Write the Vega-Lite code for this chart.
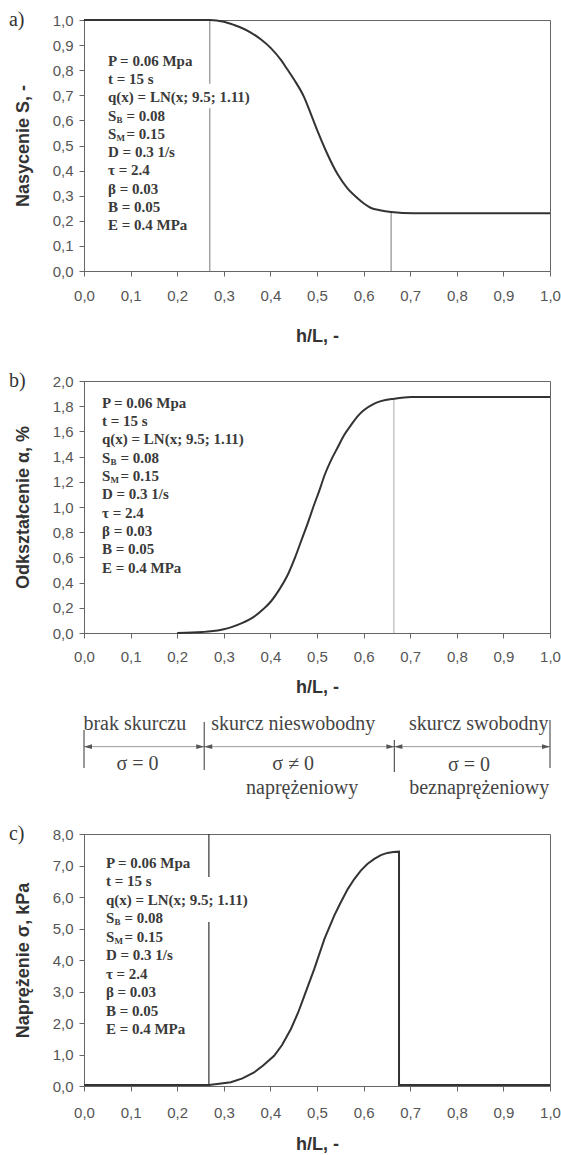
{
  "$schema": "https://vega.github.io/schema/vega-lite/v6.json",
  "padding": {"left": 8, "top": 9, "right": 0, "bottom": 0},
  "spacing": 24,
  "config": {
    "view": {"stroke": "#666", "strokeWidth": 1},
    "axis": {
      "grid": false,
      "labelOverlap": false,
      "domainColor": "#666",
      "tickColor": "#666",
      "tickSize": 5,
      "labelFont": "Liberation Sans",
      "labelFontSize": 15,
      "labelColor": "#555",
      "titleFont": "Liberation Sans",
      "titleFontSize": 18,
      "titleFontWeight": "bold",
      "titleColor": "#333"
    }
  },
  "datasets": {
    "params": [
      {"line": 0, "t": "P = 0.06 Mpa"},
      {"line": 1, "t": "t = 15 s"},
      {"line": 2, "t": "q(x) = LN(x; 9.5; 1.11)"},
      {"line": 3, "t": "S", "sub": "B", "rest": "= 0.08"},
      {"line": 4, "t": "S", "sub": "M", "rest": "= 0.15"},
      {"line": 5, "t": "D = 0.3 1/s"},
      {"line": 6, "t": "\u00a0τ = 2.4"},
      {"line": 7, "t": "β = 0.03"},
      {"line": 8, "t": "B = 0.05"},
      {"line": 9, "t": "E = 0.4 MPa"}
    ],
    "sa": [
      {"x": 0, "y": 1}, {"x": 0.27, "y": 1}, {"x": 0.3, "y": 0.993}, {"x": 0.322, "y": 0.98},
      {"x": 0.34, "y": 0.967}, {"x": 0.358, "y": 0.95}, {"x": 0.38, "y": 0.922}, {"x": 0.401, "y": 0.888},
      {"x": 0.423, "y": 0.84}, {"x": 0.434, "y": 0.81}, {"x": 0.45, "y": 0.765}, {"x": 0.473, "y": 0.69},
      {"x": 0.487, "y": 0.625}, {"x": 0.501, "y": 0.558}, {"x": 0.52, "y": 0.475}, {"x": 0.544, "y": 0.386},
      {"x": 0.565, "y": 0.33}, {"x": 0.587, "y": 0.29}, {"x": 0.6, "y": 0.27}, {"x": 0.616, "y": 0.251},
      {"x": 0.635, "y": 0.242}, {"x": 0.659, "y": 0.235}, {"x": 0.708, "y": 0.23}, {"x": 1, "y": 0.23}
    ],
    "sb": [
      {"x": 0.2, "y": 0}, {"x": 0.254, "y": 0.008}, {"x": 0.272, "y": 0.013}, {"x": 0.3, "y": 0.03},
      {"x": 0.315, "y": 0.045}, {"x": 0.34, "y": 0.08}, {"x": 0.365, "y": 0.13}, {"x": 0.385, "y": 0.19},
      {"x": 0.401, "y": 0.25}, {"x": 0.42, "y": 0.35}, {"x": 0.437, "y": 0.46}, {"x": 0.453, "y": 0.6},
      {"x": 0.466, "y": 0.73}, {"x": 0.48, "y": 0.87}, {"x": 0.494, "y": 1.02}, {"x": 0.505, "y": 1.13},
      {"x": 0.516, "y": 1.25}, {"x": 0.53, "y": 1.37}, {"x": 0.544, "y": 1.47}, {"x": 0.558, "y": 1.57},
      {"x": 0.573, "y": 1.65}, {"x": 0.587, "y": 1.72}, {"x": 0.601, "y": 1.77}, {"x": 0.62, "y": 1.815},
      {"x": 0.637, "y": 1.84}, {"x": 0.666, "y": 1.86}, {"x": 0.702, "y": 1.873}, {"x": 1, "y": 1.873}
    ],
    "sc": [
      {"x": 0, "y": 0.03}, {"x": 0.268, "y": 0.03}, {"x": 0.29, "y": 0.07}, {"x": 0.315, "y": 0.12},
      {"x": 0.34, "y": 0.24}, {"x": 0.365, "y": 0.43}, {"x": 0.385, "y": 0.66}, {"x": 0.408, "y": 0.96},
      {"x": 0.425, "y": 1.3}, {"x": 0.444, "y": 1.81}, {"x": 0.46, "y": 2.35}, {"x": 0.473, "y": 2.87},
      {"x": 0.494, "y": 3.71}, {"x": 0.516, "y": 4.67}, {"x": 0.537, "y": 5.41}, {"x": 0.55, "y": 5.8},
      {"x": 0.566, "y": 6.25}, {"x": 0.58, "y": 6.57}, {"x": 0.594, "y": 6.84}, {"x": 0.608, "y": 7.05},
      {"x": 0.623, "y": 7.21}, {"x": 0.637, "y": 7.33}, {"x": 0.651, "y": 7.4}, {"x": 0.664, "y": 7.43},
      {"x": 0.676, "y": 7.44}, {"x": 0.676, "y": 0.03}, {"x": 1, "y": 0.03}
    ]
  },
  "vconcat": [
    {
      "width": 466,
      "height": 251,
      "layer": [
        {
          "encoding": {
            "x": {"field": "x", "type": "quantitative", "scale": {"domain": [0, 1]},
              "axis": {"title": "h/L, -", "values": [0, 0.1, 0.2, 0.3, 0.4, 0.5, 0.6, 0.7, 0.8, 0.9, 1],
                "labelExpr": "replace(format(datum.value, '.1f'), '.', ',')", "labelFlush": false, "labelOverlap": false,
                "labelPadding": 12, "titlePadding": 24}},
            "y": {"field": "y", "type": "quantitative", "scale": {"domain": [0, 1]},
              "axis": {"title": "Nasycenie S, -", "values": [0, 0.1, 0.2, 0.3, 0.4, 0.5, 0.6, 0.7, 0.8, 0.9, 1],
                "labelExpr": "replace(format(datum.value, '.1f'), '.', ',')", "labelOverlap": false, "labelBound": false,
                "labelPadding": 6, "titlePadding": 20}}
          },
          "layer": [
            {
              "data": {"values": [{"x": 0.27, "y": 0, "y2": 1}, {"x": 0.659, "y": 0, "y2": 0.235}]},
              "mark": {"type": "rule", "color": "#777", "strokeWidth": 1},
              "encoding": {"y2": {"field": "y2"}}
            },
            {
              "data": {"name": "sa"},
              "mark": {"type": "line", "color": "#333", "strokeWidth": 2, "interpolate": "monotone"},
              "encoding": {"order": {"value": null}}
            },
            {
              "data": {"values": [{"x": -0.161, "y": 1, "t": "a)"}]},
              "mark": {"type": "text", "align": "left", "baseline": "middle", "font": "Liberation Serif", "fontSize": 20, "color": "#333"},
              "encoding": {"text": {"field": "t"}}
            }
          ]
        },
        {
          "layer": [
            {
              "data": {"values": [{"l0": 1.25, "l1": 2.6, "x0": 0.22, "x1": 0.33}]},
              "mark": {"type": "rect", "color": "white"},
              "encoding": {
                "x": {"field": "x0", "type": "quantitative"},
                "x2": {"field": "x1"},
                "y": {"field": "l0", "type": "quantitative", "scale": {"domain": [-2.25, 11.526], "reverse": true, "nice": false, "zero": false}, "axis": null},
                "y2": {"field": "l1"}
              }
            },
            {
              "data": {"name": "params"},
              "mark": {"type": "text", "align": "left", "baseline": "middle", "font": "Liberation Serif", "fontWeight": "bold", "fontSize": 15, "color": "#3a3a3a"},
              "encoding": {
                "x": {"datum": 0.0515, "type": "quantitative"},
                "y": {"field": "line", "type": "quantitative", "scale": {"domain": [-2.25, 11.526], "reverse": true, "nice": false, "zero": false}, "axis": null},
                "text": {"field": "t"}
              }
            },
            {
              "data": {"name": "params"},
              "transform": [{"filter": "isValid(datum.sub)"}],
              "mark": {"type": "text", "align": "left", "baseline": "middle", "font": "Liberation Serif", "fontWeight": "bold", "fontSize": 9, "dx": 8.5, "dy": 4, "color": "#3a3a3a"},
              "encoding": {
                "x": {"datum": 0.0515, "type": "quantitative"},
                "y": {"field": "line", "type": "quantitative", "scale": {"domain": [-2.25, 11.526], "reverse": true, "nice": false, "zero": false}, "axis": null},
                "text": {"field": "sub"}
              }
            },
            {
              "data": {"name": "params"},
              "transform": [{"filter": "isValid(datum.rest)"}],
              "mark": {"type": "text", "align": "left", "baseline": "middle", "font": "Liberation Serif", "fontWeight": "bold", "fontSize": 15, "dx": 18.5, "color": "#3a3a3a"},
              "encoding": {
                "x": {"datum": 0.0515, "type": "quantitative"},
                "y": {"field": "line", "type": "quantitative", "scale": {"domain": [-2.25, 11.526], "reverse": true, "nice": false, "zero": false}, "axis": null},
                "text": {"field": "rest"}
              }
            }
          ]
        }
      ],
      "resolve": {"scale": {"y": "independent"}}
    },
    {
      "width": 466,
      "height": 252,
      "layer": [
        {
          "encoding": {
            "x": {"field": "x", "type": "quantitative", "scale": {"domain": [0, 1]},
              "axis": {"title": "h/L, -", "values": [0, 0.1, 0.2, 0.3, 0.4, 0.5, 0.6, 0.7, 0.8, 0.9, 1],
                "labelExpr": "replace(format(datum.value, '.1f'), '.', ',')", "labelFlush": false, "labelOverlap": false,
                "labelPadding": 11, "titlePadding": 14}},
            "y": {"field": "y", "type": "quantitative", "scale": {"domain": [0, 2]},
              "axis": {"title": "Odkształcenie  α, %", "values": [0, 0.2, 0.4, 0.6, 0.8, 1, 1.2, 1.4, 1.6, 1.8, 2],
                "labelExpr": "replace(format(datum.value, '.1f'), '.', ',')", "labelOverlap": false, "labelBound": false,
                "labelPadding": 6, "titlePadding": 20}}
          },
          "layer": [
            {
              "data": {"values": [{"x": 0.665, "y": 0, "y2": 1.86}]},
              "mark": {"type": "rule", "color": "#aaa", "strokeWidth": 1},
              "encoding": {"y2": {"field": "y2"}}
            },
            {
              "data": {"name": "sb"},
              "mark": {"type": "line", "color": "#333", "strokeWidth": 2, "interpolate": "monotone"},
              "encoding": {"order": {"value": null}}
            },
            {
              "data": {"values": [{"x": -0.161, "y": 2, "t": "b)"}]},
              "mark": {"type": "text", "align": "left", "baseline": "middle", "font": "Liberation Serif", "fontSize": 20, "color": "#333"},
              "encoding": {"text": {"field": "t"}}
            },
            {
              "data": {"values": [
                {"x": 0, "x2": 0.258, "y": -0.902},
                {"x": 0.258, "x2": 0.666, "y": -0.902},
                {"x": 0.666, "x2": 1, "y": -0.902}
              ]},
              "mark": {"type": "rule", "color": "#999", "strokeWidth": 1},
              "encoding": {"x2": {"field": "x2"}}
            },
            {
              "data": {"values": [
                {"x": 0, "y": -0.77, "y2": -1.071},
                {"x": 0.258, "y": -0.706, "y2": -1.087},
                {"x": 0.666, "y": -0.849, "y2": -1.103},
                {"x": 1, "y": -0.69, "y2": -1.071}
              ]},
              "mark": {"type": "rule", "color": "#555", "strokeWidth": 1.2},
              "encoding": {"y2": {"field": "y2"}}
            },
            {
              "data": {"values": [
                {"x": 0, "y": -0.902, "d": "L"},
                {"x": 0.258, "y": -0.902, "d": "L"},
                {"x": 0.666, "y": -0.902, "d": "L"},
                {"x": 0.258, "y": -0.902, "d": "R"},
                {"x": 0.666, "y": -0.902, "d": "R"},
                {"x": 1, "y": -0.902, "d": "R"}
              ]},
              "mark": {"type": "point", "filled": true, "color": "#555", "size": 64, "opacity": 1},
              "encoding": {
                "shape": {"field": "d", "type": "nominal", "scale": {"domain": ["L", "R"], "range": ["M0,0L2,-0.6L2,0.6Z", "M0,0L-2,-0.6L-2,0.6Z"]}, "legend": null}
              }
            },
            {
              "data": {"values": [
                {"x": 0.109, "y": -0.722, "t": "brak skurczu"},
                {"x": 0.449, "y": -0.722, "t": "skurcz nieswobodny"},
                {"x": 0.847, "y": -0.72, "t": "skurcz swobodny"},
                {"x": 0.115, "y": -1.04, "t": "σ = 0"},
                {"x": 0.449, "y": -1.04, "t": "σ ≠ 0"},
                {"x": 0.826, "y": -1.048, "t": "σ = 0"},
                {"x": 0.468, "y": -1.23, "t": "naprężeniowy"},
                {"x": 0.848, "y": -1.23, "t": "beznaprężeniowy"}
              ]},
              "mark": {"type": "text", "align": "center", "baseline": "middle", "font": "Liberation Serif", "fontSize": 20, "color": "#444"},
              "encoding": {"text": {"field": "t"}}
            }
          ]
        },
        {
          "layer": [
            {
              "data": {"name": "params"},
              "mark": {"type": "text", "align": "left", "baseline": "middle", "font": "Liberation Serif", "fontWeight": "bold", "fontSize": 15, "color": "#3a3a3a"},
              "encoding": {
                "x": {"datum": 0.0386, "type": "quantitative"},
                "y": {"field": "line", "type": "quantitative", "scale": {"domain": [-1.184, 12.564], "reverse": true, "nice": false, "zero": false}, "axis": null},
                "text": {"field": "t"}
              }
            },
            {
              "data": {"name": "params"},
              "transform": [{"filter": "isValid(datum.sub)"}],
              "mark": {"type": "text", "align": "left", "baseline": "middle", "font": "Liberation Serif", "fontWeight": "bold", "fontSize": 9, "dx": 8.5, "dy": 4, "color": "#3a3a3a"},
              "encoding": {
                "x": {"datum": 0.0386, "type": "quantitative"},
                "y": {"field": "line", "type": "quantitative", "scale": {"domain": [-1.184, 12.564], "reverse": true, "nice": false, "zero": false}, "axis": null},
                "text": {"field": "sub"}
              }
            },
            {
              "data": {"name": "params"},
              "transform": [{"filter": "isValid(datum.rest)"}],
              "mark": {"type": "text", "align": "left", "baseline": "middle", "font": "Liberation Serif", "fontWeight": "bold", "fontSize": 15, "dx": 18.5, "color": "#3a3a3a"},
              "encoding": {
                "x": {"datum": 0.0386, "type": "quantitative"},
                "y": {"field": "line", "type": "quantitative", "scale": {"domain": [-1.184, 12.564], "reverse": true, "nice": false, "zero": false}, "axis": null},
                "text": {"field": "rest"}
              }
            }
          ]
        }
      ],
      "resolve": {"scale": {"y": "independent"}}
    },
    {
      "width": 466,
      "height": 252,
      "layer": [
        {
          "encoding": {
            "x": {"field": "x", "type": "quantitative", "scale": {"domain": [0, 1]},
              "axis": {"title": "h/L, -", "values": [0, 0.1, 0.2, 0.3, 0.4, 0.5, 0.6, 0.7, 0.8, 0.9, 1],
                "labelExpr": "replace(format(datum.value, '.1f'), '.', ',')", "labelFlush": false, "labelOverlap": false,
                "labelPadding": 14, "titlePadding": 15}},
            "y": {"field": "y", "type": "quantitative", "scale": {"domain": [0, 8]},
              "axis": {"title": "Naprężenie  σ, kPa", "values": [0, 1, 2, 3, 4, 5, 6, 7, 8],
                "labelExpr": "replace(format(datum.value, '.1f'), '.', ',')", "labelOverlap": false, "labelBound": false,
                "labelPadding": 6, "titlePadding": 20}}
          },
          "layer": [
            {
              "data": {"values": [{"x": 0.268, "y": 0, "y2": 8}]},
              "mark": {"type": "rule", "color": "#333", "strokeWidth": 1.2},
              "encoding": {"y2": {"field": "y2"}}
            },
            {
              "data": {"name": "sc"},
              "mark": {"type": "line", "color": "#333", "strokeWidth": 2},
              "encoding": {"order": {"value": null}}
            },
            {
              "data": {"values": [{"x": -0.161, "y": 8, "t": "c)"}]},
              "mark": {"type": "text", "align": "left", "baseline": "middle", "font": "Liberation Serif", "fontSize": 20, "color": "#333"},
              "encoding": {"text": {"field": "t"}}
            }
          ]
        },
        {
          "layer": [
            {
              "data": {"values": [{"l0": 0.76, "l1": 3.2, "x0": 0.22, "x1": 0.33}]},
              "mark": {"type": "rect", "color": "white"},
              "encoding": {
                "x": {"field": "x0", "type": "quantitative"},
                "x2": {"field": "x1"},
                "y": {"field": "l0", "type": "quantitative", "scale": {"domain": [-1.573, 12.093], "reverse": true, "nice": false, "zero": false}, "axis": null},
                "y2": {"field": "l1"}
              }
            },
            {
              "data": {"name": "params"},
              "mark": {"type": "text", "align": "left", "baseline": "middle", "font": "Liberation Serif", "fontWeight": "bold", "fontSize": 15, "color": "#3a3a3a"},
              "encoding": {
                "x": {"datum": 0.047, "type": "quantitative"},
                "y": {"field": "line", "type": "quantitative", "scale": {"domain": [-1.573, 12.093], "reverse": true, "nice": false, "zero": false}, "axis": null},
                "text": {"field": "t"}
              }
            },
            {
              "data": {"name": "params"},
              "transform": [{"filter": "isValid(datum.sub)"}],
              "mark": {"type": "text", "align": "left", "baseline": "middle", "font": "Liberation Serif", "fontWeight": "bold", "fontSize": 9, "dx": 8.5, "dy": 4, "color": "#3a3a3a"},
              "encoding": {
                "x": {"datum": 0.047, "type": "quantitative"},
                "y": {"field": "line", "type": "quantitative", "scale": {"domain": [-1.573, 12.093], "reverse": true, "nice": false, "zero": false}, "axis": null},
                "text": {"field": "sub"}
              }
            },
            {
              "data": {"name": "params"},
              "transform": [{"filter": "isValid(datum.rest)"}],
              "mark": {"type": "text", "align": "left", "baseline": "middle", "font": "Liberation Serif", "fontWeight": "bold", "fontSize": 15, "dx": 18.5, "color": "#3a3a3a"},
              "encoding": {
                "x": {"datum": 0.047, "type": "quantitative"},
                "y": {"field": "line", "type": "quantitative", "scale": {"domain": [-1.573, 12.093], "reverse": true, "nice": false, "zero": false}, "axis": null},
                "text": {"field": "rest"}
              }
            }
          ]
        }
      ],
      "resolve": {"scale": {"y": "independent"}}
    }
  ]
}
